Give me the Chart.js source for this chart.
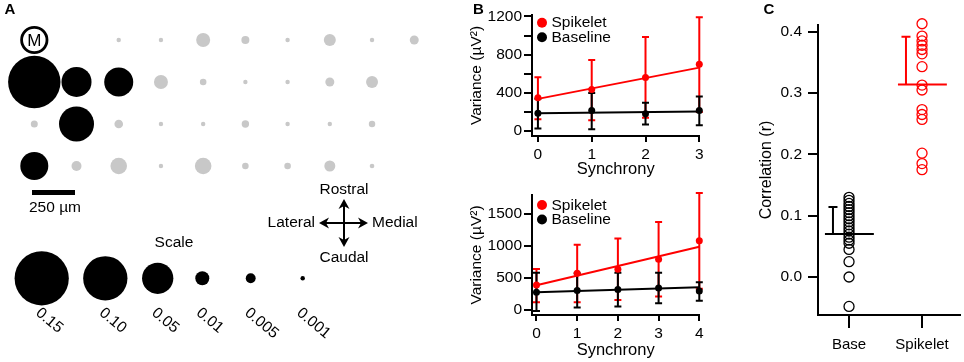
<!DOCTYPE html>
<html lang="en">
<head>
<meta charset="UTF-8">
<title>Spikelet synchrony</title>
<script src="https://cdn.jsdelivr.net/npm/chart.js@4.4.3/dist/chart.umd.min.js"></script>
<style>
  body { margin: 0; background: #fff; }
  #wrap { position: relative; width: 964px; height: 362px; overflow: hidden; }
  canvas { position: absolute; }
</style>
</head>
<body>
<div id="wrap">
  <canvas id="mapA" width="440" height="362" style="left:0;top:0"></canvas>
  <canvas id="varTop" width="280" height="181" style="left:440px;top:0"></canvas>
  <canvas id="varBot" width="280" height="181" style="left:440px;top:181px"></canvas>
  <canvas id="corr" width="244" height="362" style="left:720px;top:0"></canvas>
</div>
<script>
// ---- panel A: correlation map (rows rostral -> caudal, columns lateral -> medial)
const mapRow0 = [null, null, 0.001, 0.001, 0.010, 0.0033, 0.001, 0.0073, 0.001, 0.0041];
const mapRow1 = [0.14, 0.046, 0.043, 0.010, 0.0022, 0.001, 0.001, 0.0041, 0.0073, null];
const mapRow2 = [0.0025, 0.0625, 0.0038, 0.001, 0.001, 0.0028, 0.001, 0.001, 0.0021, null];
const mapRow3 = [0.040, 0.0051, 0.014, 0.001, 0.014, 0.0022, 0.0022, 0.0062, 0.0011, null];
const sigRow0 = [0, 0, 0, 0, 0, 0, 0, 0, 0, 0];
const sigRow1 = [1, 1, 1, 0, 0, 0, 0, 0, 0, 0];
const sigRow2 = [0, 1, 0, 0, 0, 0, 0, 0, 0, 0];
const sigRow3 = [1, 0, 0, 0, 0, 0, 0, 0, 0, 0];
const recSite = { col: 0, row: 0 };
const keyVals = [0.15, 0.10, 0.05, 0.01, 0.005, 0.001];
const keyLabels = ['0.15', '0.10', '0.05', '0.01', '0.005', '0.001'];

// ---- panel B: variance vs synchrony
const seriesNames = ['Spikelet', 'Baseline'];
const syncTop = [0, 1, 2, 3];
const spikeTop = [350, 436, 561, 700];
const spikeTopHi = [565, 745, 985, 1192];
const spikeTopLo = [125, 114, 140, 200];
const baseTop = [187, 217, 183, 217];
const baseTopHi = [340, 400, 297, 362];
const baseTopLo = [28, 21, 69, 62];
const fitSpikeTop = [338, 665];
const fitBaseTop = [189, 207];
const yTicksTop = [0, 200, 400, 600, 800, 1000, 1200];
const yLabelsTop = [0, 400, 800, 1200];

const syncBot = [0, 1, 2, 3, 4];
const spikeBot = [388, 570, 632, 787, 1077];
const spikeBotHi = [637, 1015, 1113, 1371, 1822];
const spikeBotLo = [119, 119, 155, 207, 331];
const baseBot = [275, 300, 318, 340, 295];
const baseBotHi = [580, 570, 580, 580, 430];
const baseBotLo = [-16, 36, 52, 104, 144];
const fitSpikeBot = [385, 983];
const fitBaseBot = [275, 352];
const yTicksBot = [0, 500, 1000, 1500];
const yLabelsBot = [0, 500, 1000, 1500];

// ---- panel C: correlation per cell
const groupNames = ['Base', 'Spikelet'];
const baseCorr = [0.13, 0.125, 0.12, 0.115, 0.11, 0.105, 0.10, 0.095, 0.09, 0.085, 0.08, 0.075, 0.07, 0.065, 0.06, 0.055, 0.045, 0.025, 0.0, -0.048];
const spikeCorr = [0.413, 0.393, 0.385, 0.378, 0.371, 0.364, 0.343, 0.313, 0.305, 0.273, 0.265, 0.257, 0.202, 0.185, 0.175];
const groupMean = [0.070, 0.314];
const groupErrHi = [0.114, 0.392];
const corrTicks = [0.0, 0.1, 0.2, 0.3, 0.4];

const RED = 'rgb(255,0,0)';
const GREY = '#c8c8c8';
const FONT = 'Arial, "Liberation Sans", sans-serif';
Chart.defaults.font.family = FONT;
Chart.defaults.color = '#000';
Chart.defaults.animation = false;
Chart.defaults.events = [];
Chart.defaults.plugins.legend.display = false;
Chart.defaults.plugins.tooltip.enabled = false;

function bubbleR(v) { return 70 * Math.sqrt(v); }

function arrow(ctx, x1, y1, x2, y2) {
    const a = Math.atan2(y2 - y1, x2 - x1);
    const c = Math.cos(a), s = Math.sin(a);
    ctx.beginPath();
    ctx.moveTo(x1, y1);
    ctx.lineTo(x2 - 6 * c, y2 - 6 * s);
    ctx.stroke();
    ctx.beginPath();
    ctx.moveTo(x2, y2);
    ctx.lineTo(x2 - 10 * c + 5.5 * s, y2 - 10 * s - 5.5 * c);
    ctx.lineTo(x2 - 7 * c, y2 - 7 * s);
    ctx.lineTo(x2 - 10 * c - 5.5 * s, y2 - 10 * s + 5.5 * c);
    ctx.closePath();
    ctx.fill();
}

// ================= panel A
const mapRows = [mapRow0, mapRow1, mapRow2, mapRow3];
const sigRows = [sigRow0, sigRow1, sigRow2, sigRow3];
const sigPts = [], nsPts = [];
mapRows.forEach((row, r) => row.forEach((v, c) => {
    if (v === null) return;
    const p = { x: c, y: r, r: bubbleR(v) };
    (sigRows[r][c] ? sigPts : nsPts).push(p);
}));

const mapDecor = {
    id: 'mapDecor',
    afterDatasetsDraw(chart) {
        const ctx = chart.ctx;
        ctx.save();
        ctx.fillStyle = '#000';
        ctx.strokeStyle = '#000';
        ctx.textAlign = 'center';
        ctx.textBaseline = 'middle';
        ctx.font = 'bold 15px ' + FONT;
        ctx.fillText('A', 10, 10);

        const m = chart.getDatasetMeta(2).data[0];
        ctx.font = '17px ' + FONT;
        ctx.fillText('M', m.x, m.y + 1);

        // scale bar
        ctx.fillRect(32, 190, 43, 5);
        ctx.font = '15.5px ' + FONT;
        ctx.fillText('250 µm', 55, 208);

        // orientation cross
        ctx.lineWidth = 2;
        const cx = 344, cy = 223;
        arrow(ctx, cx, cy, cx, 199);
        arrow(ctx, cx, cy, cx, 247);
        arrow(ctx, cx, cy, 319, cy);
        arrow(ctx, cx, cy, 368, cy);
        ctx.fillText('Rostral', cx, 190);
        ctx.fillText('Caudal', cx, 258);
        ctx.textAlign = 'right';
        ctx.fillText('Lateral', 315, cy);
        ctx.textAlign = 'left';
        ctx.fillText('Medial', 372, cy);

        // size key
        ctx.textAlign = 'center';
        ctx.fillText('Scale', 174, 243);
        const keyX = [41.7, 105.3, 157.7, 202.3, 250.7, 302.7];
        keyVals.forEach((v, i) => {
            ctx.beginPath();
            ctx.arc(keyX[i], 278.3, bubbleR(v), 0, Math.PI * 2);
            ctx.fill();
            ctx.save();
            ctx.translate(keyX[i] + 1, 305);
            ctx.rotate(40 * Math.PI / 180);
            ctx.textAlign = 'left';
            ctx.textBaseline = 'top';
            ctx.fillText(keyLabels[i], 0, 0);
            ctx.restore();
        });
        ctx.restore();
    }
};

new Chart(document.getElementById('mapA'), {
    type: 'bubble',
    data: {
        datasets: [
            { data: sigPts, backgroundColor: '#000', borderWidth: 0, clip: false },
            { data: nsPts, backgroundColor: GREY, borderWidth: 0, clip: false },
            { data: [{ x: recSite.col, y: recSite.row, r: 12.7 }], backgroundColor: '#fff',
              borderColor: '#000', borderWidth: 2.8, clip: false }
        ]
    },
    options: {
        responsive: false,
        layout: { padding: 0, autoPadding: false },
        scales: {
            x: { type: 'linear', display: false, min: -0.8125, max: 9.61 },
            y: { type: 'linear', display: false, reverse: true, min: -0.952, max: 7.667 }
        }
    },
    plugins: [mapDecor]
});

// ================= panel B
function errBars(ctx, chart, xs, lo, hi, color) {
    const sx = chart.scales.x, sy = chart.scales.y;
    ctx.strokeStyle = color;
    ctx.lineWidth = 2;
    xs.forEach((x, i) => {
        const px = sx.getPixelForValue(x);
        const y1 = sy.getPixelForValue(lo[i]), y2 = sy.getPixelForValue(hi[i]);
        ctx.beginPath();
        ctx.moveTo(px, y1); ctx.lineTo(px, y2);
        ctx.moveTo(px - 3.5, y1); ctx.lineTo(px + 3.5, y1);
        ctx.moveTo(px - 3.5, y2); ctx.lineTo(px + 3.5, y2);
        ctx.stroke();
    });
}

function varChart(id, sync, spike, spikeHi, spikeLo, base, baseHi, baseLo, fitS, fitB,
                  yTicks, yLabels, yMin, yMax, padTop, xHeight, legTop) {
    const last = sync[sync.length - 1];
    const colors = [RED, '#000'];
    const decor = {
        id: 'varDecor',
        beforeDatasetsDraw(chart) {
            const ctx = chart.ctx;
            ctx.save();
            errBars(ctx, chart, sync, spikeLo, spikeHi, RED);
            errBars(ctx, chart, sync, baseLo, baseHi, '#000');
            ctx.restore();
        },
        afterDatasetsDraw(chart) {
            const ctx = chart.ctx;
            ctx.save();
            ctx.textBaseline = 'middle';
            ctx.font = '15.5px ' + FONT;
            seriesNames.forEach((name, i) => {
                const y = legTop + i * 14.5;
                ctx.fillStyle = colors[i];
                ctx.beginPath();
                ctx.arc(102, y, 5, 0, Math.PI * 2);
                ctx.fill();
                ctx.fillStyle = '#000';
                ctx.fillText(name, 111.5, y + 0.5);
            });
            if (id === 'varTop') {
                ctx.font = 'bold 15px ' + FONT;
                ctx.textAlign = 'center';
                ctx.fillText('B', 38.5, 10);
            }
            ctx.restore();
        }
    };
    return new Chart(document.getElementById(id), {
        type: 'scatter',
        data: {
            datasets: [
                { label: seriesNames[0], data: sync.map((x, i) => ({ x, y: spike[i] })),
                  backgroundColor: RED, pointRadius: 3.5, borderWidth: 0, clip: false },
                { label: seriesNames[1], data: sync.map((x, i) => ({ x, y: base[i] })),
                  backgroundColor: '#000', pointRadius: 3.5, borderWidth: 0, clip: false },
                { type: 'line', data: [{ x: 0, y: fitS[0] }, { x: last, y: fitS[1] }],
                  borderColor: RED, borderWidth: 2, pointRadius: 0, clip: false },
                { type: 'line', data: [{ x: 0, y: fitB[0] }, { x: last, y: fitB[1] }],
                  borderColor: '#000', borderWidth: 2, pointRadius: 0, clip: false }
            ]
        },
        options: {
            responsive: false,
            layout: { padding: { top: padTop, right: 20.7, left: 0, bottom: 0 }, autoPadding: false },
            scales: {
                x: {
                    type: 'linear', min: -0.11, max: last,
                    afterBuildTicks: s => { s.ticks = sync.map(v => ({ value: v })); },
                    afterFit: s => { s.height = xHeight; },
                    ticks: { font: { size: 15.5 }, padding: 3, autoSkip: false, maxRotation: 0 },
                    grid: { drawOnChartArea: false, tickLength: 6, color: '#000', lineWidth: 2 },
                    border: { color: '#000', width: 2 },
                    title: { display: true, text: 'Synchrony', font: { size: 16.5, lineHeight: 1.2 },
                             padding: { top: 0, bottom: 2 } }
                },
                y: {
                    type: 'linear', min: yMin, max: yMax,
                    afterBuildTicks: s => { s.ticks = yTicks.map(v => ({ value: v })); },
                    afterFit: s => { s.width = 92; },
                    ticks: { font: { size: 15.5 }, padding: 2, autoSkip: false,
                             callback: v => yLabels.includes(v) ? String(v) : '' },
                    grid: { drawOnChartArea: false, tickLength: 8, color: '#000', lineWidth: 2 },
                    border: { color: '#000', width: 2 },
                    title: { display: true, text: 'Variance (µV²)', font: { size: 15.5, lineHeight: 1.2 },
                             padding: { top: 27, bottom: 0 } }
                }
            }
        },
        plugins: [decor]
    });
}

varChart('varTop', syncTop, spikeTop, spikeTopHi, spikeTopLo, baseTop, baseTopHi, baseTopLo,
         fitSpikeTop, fitBaseTop, yTicksTop, yLabelsTop, -50, 1215, 15, 45, 22.7);
varChart('varBot', syncBot, spikeBot, spikeBotHi, spikeBotLo, baseBot, baseBotHi, baseBotLo,
         fitSpikeBot, fitBaseBot, yTicksBot, yLabelsBot, -80, 1790, 14, 47, 24);

// ================= panel C
const corrDecor = {
    id: 'corrDecor',
    afterDatasetsDraw(chart) {
        const ctx = chart.ctx, sx = chart.scales.x, sy = chart.scales.y;
        ctx.save();
        [ '#000', RED ].forEach((color, g) => {
            ctx.strokeStyle = color;
            ctx.lineWidth = 2;
            const ym = sy.getPixelForValue(groupMean[g]);
            const yh = sy.getPixelForValue(groupErrHi[g]);
            const xe = sx.getPixelForValue(g - 0.22);
            ctx.beginPath();
            ctx.moveTo(sx.getPixelForValue(g - 0.33), ym);
            ctx.lineTo(sx.getPixelForValue(g + 0.34), ym);
            ctx.moveTo(xe, ym); ctx.lineTo(xe, yh);
            ctx.moveTo(xe - 4.5, yh); ctx.lineTo(xe + 4.5, yh);
            ctx.stroke();
        });
        ctx.fillStyle = '#000';
        ctx.font = 'bold 15px ' + FONT;
        ctx.textAlign = 'center';
        ctx.textBaseline = 'middle';
        ctx.fillText('C', 49, 10);
        ctx.restore();
    }
};

new Chart(document.getElementById('corr'), {
    type: 'scatter',
    data: {
        datasets: [
            { data: baseCorr.map(v => ({ x: 0, y: v })), borderColor: '#000', backgroundColor: 'rgba(0,0,0,0)',
              pointRadius: 5, borderWidth: 1.3, clip: false },
            { data: spikeCorr.map(v => ({ x: 1, y: v })), borderColor: RED, backgroundColor: 'rgba(0,0,0,0)',
              pointRadius: 5, borderWidth: 1.3, clip: false }
        ]
    },
    options: {
        responsive: false,
        layout: { padding: { top: 25, right: 4, left: 0, bottom: 0 }, autoPadding: false },
        scales: {
            x: {
                type: 'linear', min: -0.425, max: 1.52,
                afterBuildTicks: s => { s.ticks = groupNames.map((n, i) => ({ value: i })); },
                afterFit: s => { s.height = 47; },
                ticks: { font: { size: 15 }, padding: 8, autoSkip: false, maxRotation: 0,
                         callback: v => groupNames[v] },
                grid: { drawOnChartArea: false, tickLength: 13, color: '#000', lineWidth: 2 },
                border: { color: '#000', width: 2 }
            },
            y: {
                type: 'linear', min: -0.062, max: 0.411,
                afterBuildTicks: s => { s.ticks = corrTicks.map(v => ({ value: v })); },
                afterFit: s => { s.width = 98; },
                ticks: { font: { size: 15.5 }, padding: 6, autoSkip: false, callback: v => v.toFixed(1) },
                grid: { drawOnChartArea: false, tickLength: 10, color: '#000', lineWidth: 2 },
                border: { color: '#000', width: 2 },
                title: { display: true, text: 'Correlation (r)', font: { size: 16, lineHeight: 1.2 },
                         padding: { top: 37, bottom: 0 } }
            }
        }
    },
    plugins: [corrDecor]
});
</script>
</body>
</html>
